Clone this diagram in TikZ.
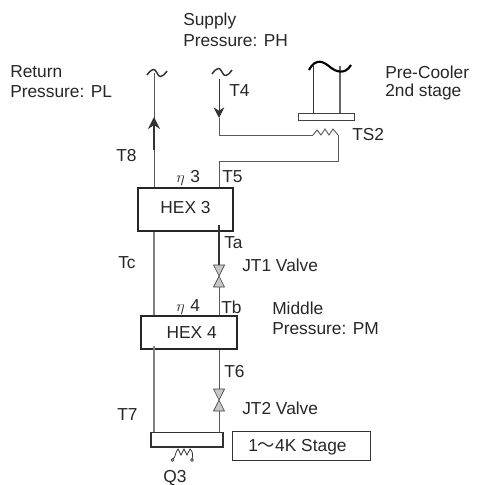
\documentclass[tikz,border=0pt]{standalone}
\usepackage{fontspec}
\setmainfont{Liberation Sans}
\newfontfamily\cjk{Noto Sans CJK JP}
\usetikzlibrary{arrows.meta}
\tikzset{
	pipe/.style={line width=0.7pt, color=black!65},
	hexbox/.style={draw, line width=1.7pt, color=black!85, text=black!85, inner sep=0pt, font=\fontsize{13}{15}\selectfont},
	lbl/.style={anchor=west, inner sep=0pt, text=black!85, font=\fontsize{13}{15}\selectfont},
	wave/.style={line width=1.1pt, color=black!80},
	jtwing/.style={draw=black!75, fill=black!22, line width=0.5pt},
}
\def\wavemark(#1,#2)(#3,#4){\draw[wave] (#1-#3, #2+2) .. controls (#1-#3*0.5, #2-#4) and (#1-#3*0.2, #2-#4) .. (#1, #2) .. controls (#1+#3*0.2, #2+#4) and (#1+#3*0.5, #2+#4) .. (#1+#3, #2-2);}
\def\jtvalve(#1,#2){\draw[jtwing] (#1-5.5, #2-11) -- (#1+5.5, #2-11) -- (#1-5.5, #2+11) -- (#1+5.5, #2+11) -- cycle;}
\begin{document}
\begin{tikzpicture}[x=0.75pt, y=-0.75pt]
		\useasboundingbox (0, 0) rectangle (477, 485);
		
		%%%%% heat exchangers and stages %%%%%
		\node[hexbox, minimum width=71.5pt, minimum height=32pt] (hexthree) at (185.5, 209.5) {\raisebox{3.6pt}{HEX 3}};
		\node[hexbox, minimum width=72pt, minimum height=24.5pt] (hexfour) at (189, 332.5) {\hspace*{4pt}HEX 4};
		\node[draw, line width=1pt, color=black!80, minimum width=54pt, minimum height=11pt, inner sep=0pt] (coldstage) at (187, 439.5) {};
		\node[draw, line width=0.7pt, color=black!80, minimum width=103pt, minimum height=21.75pt, inner sep=0pt] (stagebox) at (301.5, 445.5) {};
		\node[draw, line width=0.7pt, color=black!75, minimum width=42pt, minimum height=5.25pt, inner sep=0pt] (coolerplate) at (326, 116.5) {};
		
		%%%%% return line %%%%%
		\coordinate (returntop) at (154, 73);
		\coordinate (returnarrow) at (154, 117);
		\coordinate (returntail) at (154, 150);
		\draw[pipe] (returntop) -- (hexthree.north -| returntop);
		\draw[line width=1.2pt, color=black!80, -{Stealth[length=9pt, width=9pt]}] (returntail) -- (returnarrow);
		\draw[pipe, line width=0.9pt, color=black!50] (hexthree.south -| returntop) -- (hexfour.north -| returntop);
		\draw[pipe, line width=0.9pt, color=black!50] (154, 346) -- (coldstage.north -| returntop);
		
		%%%%% supply line %%%%%
		\coordinate (supplytop) at (219, 79);
		\coordinate (supplyarrow) at (219, 118);
		\coordinate (zigin) at (313, 135);
		\coordinate (zigout) at (338, 135);
		\coordinate (coolerdrop) at (338, 161);
		\coordinate (valveone) at (219, 276);
		\coordinate (valvetwo) at (219, 400);
		\draw[line width=0.7pt, color=black!80, -{Stealth[length=8pt, width=8pt]}] (supplytop) -- (supplyarrow);
		\draw[pipe] (supplyarrow) |- (zigin);
		\draw[pipe] (zigin) -- (317, 130) -- (321, 135) -- (325, 129) -- (329, 135) -- (333, 129) -- (zigout);
		\draw[pipe] (zigout) -- (coolerdrop) -- (219, 161) -- (hexthree.north -| valveone);
		\draw[line width=0.9pt, color=black!80] (219, 225) -- (219, 265);
		\draw[pipe] (219, 287) -- (hexfour.north -| valveone);
		\draw[pipe] (hexfour.south -| valvetwo) -- (219, 389);
		\draw[pipe] (219, 411) -- (coldstage.north -| valvetwo);
		\jtvalve(219,276)
		\jtvalve(219,400)
		
		%%%%% pre-cooler %%%%%
		\draw[line width=0.7pt, color=black!80] (313, 66) -- (313, 113);
		\draw[line width=0.8pt, color=black!60] (340, 66) -- (340, 113);
		\draw[line width=1.6pt] (309, 70) .. controls (316, 57) and (324, 62) .. (330, 67) .. controls (336, 72) and (345, 75) .. (351, 65);
		\wavemark(157,73)(10,5)
		\wavemark(222,72)(10,5)
		
		%%%%% Q3 heater %%%%%
		\draw[line width=0.6pt, color=black!80] (173, 459) .. controls (176, 457) and (175, 452) .. (178, 449) -- (181, 455) -- (184, 449) -- (187, 455) -- (190, 449) .. controls (193, 451) and (193, 456) .. (192, 459);
		\draw[line width=0.5pt, color=black!80] (172.5, 460) circle (1.3);
		\draw[line width=0.5pt, color=black!80] (192, 460) circle (1.3);
		
		%%%%% labels %%%%%
		\node[lbl] (lblreturn) at (10, 72) {Return};
		\node[lbl] (lblpl) at (10, 92) {Pressure: PL};
		\node[lbl] (lblsupply) at (183, 21) {Supply};
		\node[lbl] (lblph) at (183, 41) {Pressure: PH};
		\node[lbl] (lblcooler) at (385, 72) {Pre-Cooler};
		\node[lbl] (lblsecond) at (385, 92) {2nd stage};
		\node[lbl] (lblfour) at (229, 91) {T4};
		\node[lbl] (lblts) at (352, 135) {TS2};
		\node[lbl] (lbleight) at (116, 156) {T8};
		\node[lbl] (lbletathree) at (176, 178) {$\eta$\,\,3};
		\node[lbl] (lblfive) at (222, 177) {T5};
		\node[lbl] (lblta) at (224, 243) {Ta};
		\node[lbl] (lbljtone) at (242, 265) {JT1 Valve};
		\node[lbl] (lbltc) at (118, 263) {Tc};
		\node[lbl] (lbletafour) at (176, 307) {$\eta$\,\,4};
		\node[lbl] (lbltb) at (221, 307) {Tb};
		\node[lbl] (lblmiddle) at (272, 308) {Middle};
		\node[lbl] (lblpm) at (272, 329) {Pressure: PM};
		\node[lbl] (lblsix) at (224, 372) {T6};
		\node[lbl] (lbljttwo) at (242, 408) {JT2 Valve};
		\node[lbl] (lblseven) at (117, 415) {T7};
		\node[lbl] (lblstage) at (248, 447) {1{\cjk ～}4K Stage};
		\node[lbl] (lblqthree) at (163, 478) {Q3};
	\end{tikzpicture}
\end{document}
